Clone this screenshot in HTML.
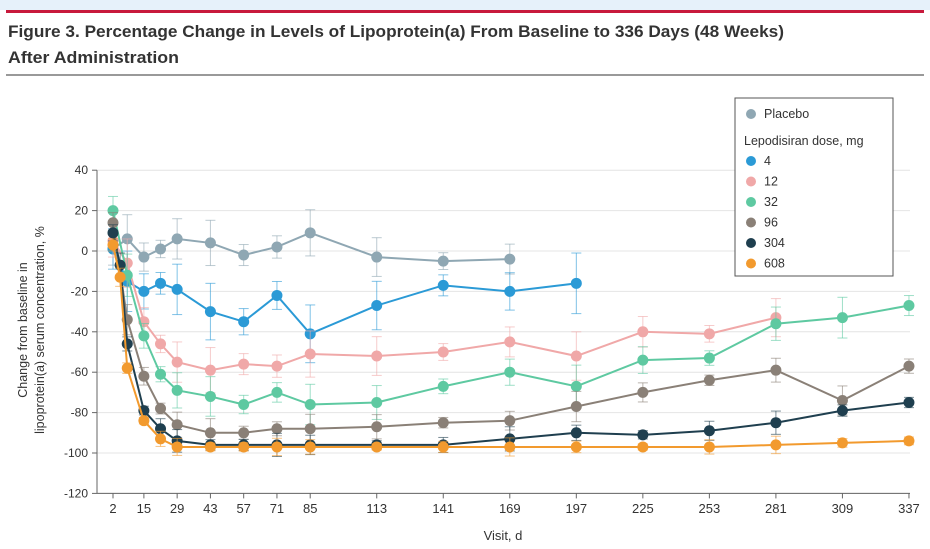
<!DOCTYPE html>
<html><head><meta charset="utf-8"><style>
body{margin:0;width:930px;height:549px;background:#fff;overflow:hidden;font-family:"Liberation Sans",sans-serif}
.top{position:absolute;left:0;top:0;width:930px;height:10px;background:#e6f1fa}
.red{position:absolute;left:6px;top:10px;width:918px;height:3px;background:#c8193c}
.gray{position:absolute;left:6px;top:74px;width:918px;height:2px;background:#999}
svg{position:absolute;left:0;top:0}
</style></head><body>
<div class="top"></div><div class="red"></div>
<div class="gray"></div>
<svg id="s" width="930" height="549" xmlns="http://www.w3.org/2000/svg" font-family="Liberation Sans, sans-serif"></svg>
<script>
const s=document.getElementById('s');let h='';
h+=`<text x="8" y="37" font-size="17" font-weight="bold" fill="#333" textLength="776" lengthAdjust="spacingAndGlyphs">Figure 3. Percentage Change in Levels of Lipoprotein(a) From Baseline to 336 Days (48 Weeks)</text>`;
h+=`<text x="8" y="63" font-size="17" font-weight="bold" fill="#333" textLength="171" lengthAdjust="spacingAndGlyphs">After Administration</text>`;
const X=d=>113+(d-2)*2.376, Y=v=>251-v*2.02;
for(let v=40;v>=-120;v-=20){h+=`<line x1="97" x2="910" y1="${Y(v)}" y2="${Y(v)}" stroke="#e4e4e4"/>`;
h+=`<line x1="92" x2="97" y1="${Y(v)}" y2="${Y(v)}" stroke="#666"/><text x="88" y="${Y(v)+4}" font-size="12" text-anchor="end" fill="#333">${v}</text>`;}
h+=`<line x1="97" x2="97" y1="${Y(40)}" y2="${Y(-120)}" stroke="#666"/><line x1="97" x2="910" y1="${Y(-120)}" y2="${Y(-120)}" stroke="#666"/>`;
[2,15,29,43,57,71,85,113,141,169,197,225,253,281,309,337].forEach(d=>{h+=`<line x1="${X(d)}" x2="${X(d)}" y1="${Y(-120)}" y2="${Y(-120)+5}" stroke="#666"/><text x="${X(d)}" y="513" font-size="13" text-anchor="middle" fill="#333">${d}</text>`});
h+=`<text x="503" y="540" font-size="13" text-anchor="middle" fill="#333">Visit, d</text>`;
h+=`<text transform="translate(27,330) rotate(-90)" font-size="12.5" text-anchor="middle" fill="#333">Change from baseline in</text><text transform="translate(44,330) rotate(-90)" font-size="12.5" text-anchor="middle" fill="#333">lipoprotein(a) serum concentration, %</text>`;
const S=[
['#8fa7b3',8,[[2,1],[8,6],[15,-3],[22,1],[29,6],[43,4],[57,-2],[71,2],[85,9],[113,-3],[141,-5],[169,-4]]],
['#2b9ad6',10,[[2,1],[8,-15],[15,-20],[22,-16],[29,-19],[43,-30],[57,-35],[71,-22],[85,-41],[113,-27],[141,-17],[169,-20],[197,-16]]],
['#f0a8a8',8,[[2,5],[8,-6],[15,-35],[22,-46],[29,-55],[43,-59],[57,-56],[71,-57],[85,-51],[113,-52],[141,-50],[169,-45],[197,-52],[225,-40],[253,-41],[281,-33]]],
['#5ec9a1',7,[[2,20],[8,-12],[15,-42],[22,-61],[29,-69],[43,-72],[57,-76],[71,-70],[85,-76],[113,-75],[141,-67],[169,-60],[197,-67],[225,-54],[253,-53],[281,-36],[309,-33],[337,-27]]],
['#8a8077',5,[[2,14],[8,-34],[15,-62],[22,-78],[29,-86],[43,-90],[57,-90],[71,-88],[85,-88],[113,-87],[141,-85],[169,-84],[197,-77],[225,-70],[253,-64],[281,-59],[309,-74],[337,-57]]],
['#1f3f4f',4,[[2,9],[5,-7],[8,-46],[15,-79],[22,-88],[29,-94],[43,-96],[57,-96],[71,-96],[85,-96],[113,-96],[141,-96],[169,-93],[197,-90],[225,-91],[253,-89],[281,-85],[309,-79],[337,-75]]],
['#f29a2e',3,[[2,3],[5,-13],[8,-58],[15,-84],[22,-93],[29,-97],[43,-97],[57,-97],[71,-97],[85,-97],[113,-97],[141,-97],[169,-97],[197,-97],[225,-97],[253,-97],[281,-96],[309,-95],[337,-94]]]];
S.forEach(([c,e,p])=>{p.forEach(([d,v],i)=>{const ee=e*(1+0.5*Math.sin(i*1.7));const x=X(d);h+=`<g stroke="${c}" stroke-opacity="0.6"><line x1="${x}" x2="${x}" y1="${Y(v+ee)}" y2="${Y(v-ee)}"/><line x1="${x-5}" x2="${x+5}" y1="${Y(v+ee)}" y2="${Y(v+ee)}"/><line x1="${x-5}" x2="${x+5}" y1="${Y(v-ee)}" y2="${Y(v-ee)}"/></g>`});
h+=`<polyline fill="none" stroke="${c}" stroke-width="2" points="${p.map(([d,v])=>X(d)+','+Y(v)).join(' ')}"/>`;
p.forEach(([d,v])=>{h+=`<circle cx="${X(d)}" cy="${Y(v)}" r="5.5" fill="${c}"/>`});});
h+=`<rect x="735" y="98" width="158" height="178" fill="#fff" stroke="#555"/>`;
h+=`<circle cx="751" cy="114" r="5" fill="${S[0][0]}"/><text x="764" y="118" font-size="12.5" fill="#333">Placebo</text><text x="744" y="145" font-size="12.5" fill="#333">Lepodisiran dose, mg</text>`;
['4','12','32','96','304','608'].forEach((t,i)=>{const y=161+i*20.5;h+=`<circle cx="751" cy="${y}" r="5" fill="${S[i+1][0]}"/><text x="764" y="${y+4}" font-size="12.5" fill="#333">${t}</text>`});
s.innerHTML=h;
</script>
</body></html>
